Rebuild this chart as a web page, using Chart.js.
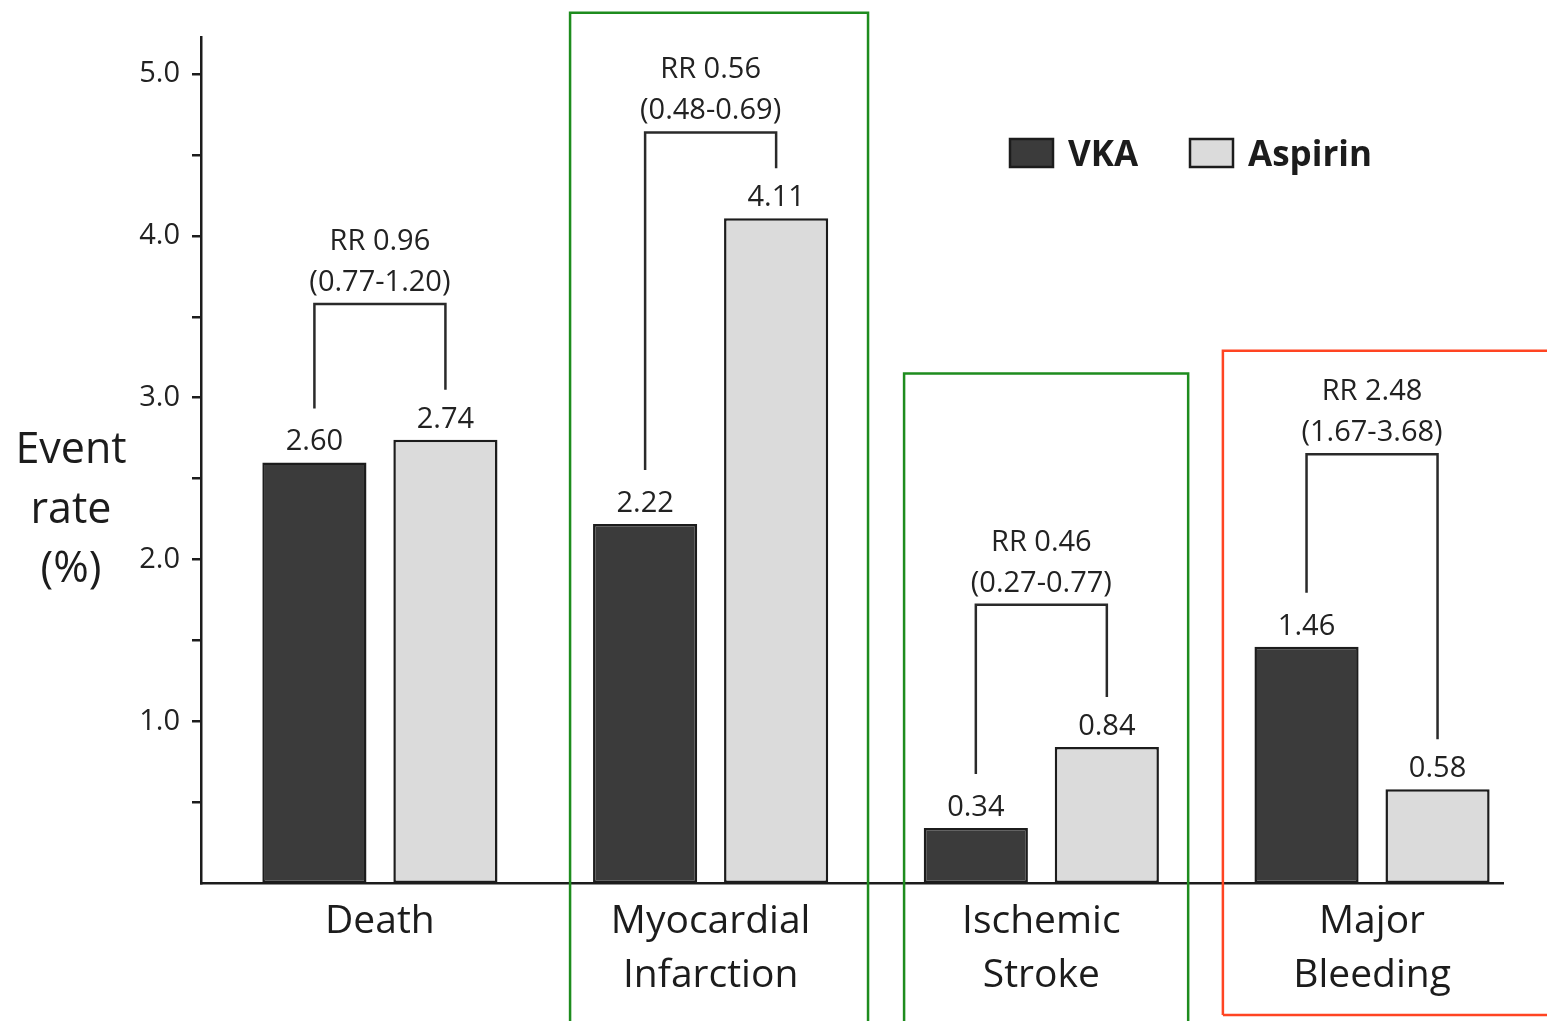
<!DOCTYPE html>
<html><head><meta charset="utf-8">
<script src="https://cdn.jsdelivr.net/npm/chart.js@4/dist/chart.umd.min.js"></script>
<style>html,body{margin:0;padding:0;background:#fff}#wrap{width:1547px;height:1021px;position:relative}</style>
</head><body><div id="wrap"><canvas id="c" width="1547" height="1021"></canvas></div>
<script>
// ---- data ----
const categories = [['Death'], ['Myocardial', 'Infarction'], ['Ischemic', 'Stroke'], ['Major', 'Bleeding']];
const seriesNames = ['VKA', 'Aspirin'];
const vkaRates = [2.60, 2.22, 0.34, 1.46];
const aspirinRates = [2.74, 4.11, 0.84, 0.58];
const rrValues = ['RR 0.96', 'RR 0.56', 'RR 0.46', 'RR 2.48'];
const rrIntervals = ['(0.77-1.20)', '(0.48-0.69)', '(0.27-0.77)', '(1.67-3.68)'];
const bracketLevels = [3.58, 4.64, 1.72, 2.65];
const yTickValues = [0.5, 1, 1.5, 2, 2.5, 3, 3.5, 4, 4.5, 5];
const yTickLabels = ['', '1.0', '', '2.0', '', '3.0', '', '4.0', '', '5.0'];
const yTitleLines = ['Event', 'rate', '(%)'];

// ---- styling ----
const FONT = "'Open Sans', 'Noto Sans', sans-serif";
const INK = '#1c1c1c';
const fills = ['#3b3b3b', '#dbdbdb'];

const annotationPlugin = {
  id: 'annot',
  afterDatasetsDraw(chart, args, opts) {
    const ctx = chart.ctx, ys = chart.scales.y;
    const metas = [chart.getDatasetMeta(0), chart.getDatasetMeta(1)];
    ctx.save();
    ctx.fillStyle = '#222';
    ctx.textAlign = 'center';
    ctx.textBaseline = 'alphabetic';
    ctx.font = `29px ${FONT}`;
    metas.forEach((m, di) => m.data.forEach((bar, i) => {
      const v = chart.data.datasets[di].data[i].y;
      ctx.fillText(v.toFixed(2), bar.x, bar.y - 12);
    }));
    ctx.strokeStyle = '#2a2a2a';
    ctx.lineWidth = 2.5;
    categories.forEach((c, i) => {
      const a = metas[0].data[i], b = metas[1].data[i];
      const top = ys.getPixelForValue(bracketLevels[i]);
      ctx.beginPath();
      ctx.moveTo(a.x, a.y - 54);
      ctx.lineTo(a.x, top);
      ctx.lineTo(b.x, top);
      ctx.lineTo(b.x, b.y - 50);
      ctx.stroke();
      const cx = (a.x + b.x) / 2;
      ctx.fillText(rrValues[i], cx, top - 54);
      ctx.fillText(rrIntervals[i], cx, top - 13);
    });
    ctx.restore();
  },
  afterDraw(chart, args, opts) {
    const ctx = chart.ctx, xs = chart.scales.x, ys = chart.scales.y;
    ctx.save();
    // y title
    ctx.fillStyle = INK;
    ctx.textAlign = 'center';
    ctx.font = `43px ${FONT}`;
    yTitleLines.forEach((t, k) => ctx.fillText(t, opts.titleX, opts.titleY + k * 59.5));
    // legend
    const lg = opts.legend;
    chart.data.datasets.forEach((ds, k) => {
      const x = lg.x + k * lg.step;
      ctx.fillStyle = ds.backgroundColor;
      ctx.fillRect(x, lg.y, lg.w, lg.h);
      ctx.strokeStyle = INK; ctx.lineWidth = 2.5;
      ctx.strokeRect(x, lg.y, lg.w, lg.h);
      ctx.fillStyle = INK;
      ctx.textAlign = 'left';
      ctx.font = `bold 35px ${FONT}`;
      ctx.fillText(ds.label, x + lg.w + 15, lg.y + 27);
    });
    // highlight frames
    opts.frames.forEach(f => {
      const l = xs.getPixelForValue(f.from), r = xs.getPixelForValue(f.to);
      const t = ys.getPixelForValue(f.top);
      const b = f.bottomPx;
      ctx.strokeStyle = f.color; ctx.lineWidth = 2.5;
      ctx.beginPath();
      ctx.moveTo(l, b); ctx.lineTo(l, t); ctx.lineTo(r, t); ctx.lineTo(r, b);
      if (f.closed) ctx.lineTo(l, b);
      ctx.stroke();
    });
    ctx.restore();
  }
};

new Chart(document.getElementById('c'), {
  type: 'bar',
  data: {
    datasets: [
      { label: seriesNames[0], data: categories.map((c, i) => ({ x: i, y: vkaRates[i] })),
        backgroundColor: fills[0], borderColor: INK, borderWidth: 2.5, borderSkipped: false,
        categoryPercentage: 0.7923, barPercentage: 0.795 },
      { label: seriesNames[1], data: categories.map((c, i) => ({ x: i, y: aspirinRates[i] })),
        backgroundColor: fills[1], borderColor: INK, borderWidth: 2.5, borderSkipped: false,
        categoryPercentage: 0.7923, barPercentage: 0.795 }
    ]
  },
  plugins: [annotationPlugin],
  options: {
    responsive: false,
    animation: false,
    layout: { padding: { top: 37, right: 44, left: 0, bottom: 0 } },
    plugins: {
      legend: { display: false },
      tooltip: { enabled: false },
      annot: {
        titleX: 71, titleY: 463,
        legend: { x: 1010, y: 139, w: 43, h: 28, step: 180 },
        frames: [
          { from: 0.575, to: 1.476, top: 5.38, bottomPx: 1030, color: '#1e8c1e' },
          { from: 1.585, to: 2.444, top: 3.15, bottomPx: 1030, color: '#1e8c1e' },
          { from: 2.549, to: 3.60, top: 3.29, bottomPx: 1015, color: '#ff4422', closed: true }
        ]
      }
    },
    scales: {
      x: {
        type: 'linear', min: -0.541, max: 3.396, offset: false,
        afterBuildTicks: s => { s.ticks = categories.map((c, i) => ({ value: i })); },
        afterFit: s => { s.height = 138; },
        grid: { display: false, drawTicks: false, offset: false },
        border: { display: true, color: INK, width: 2.5 },
        ticks: {
          callback: v => categories[v],
          font: { family: FONT, size: 39, lineHeight: 1.38 },
          color: INK, padding: 12, maxRotation: 0, autoSkip: false
        }
      },
      y: {
        min: 0, max: 5.23,
        afterBuildTicks: s => { s.ticks = yTickValues.map(v => ({ value: v })); },
        afterFit: s => { s.width = 201; },
        grid: { drawOnChartArea: false, color: INK, lineWidth: 2.5, tickLength: 9 },
        border: { display: true, color: INK, width: 2.5 },
        ticks: {
          callback: v => yTickLabels[yTickValues.indexOf(v)],
          font: { family: FONT, size: 29 },
          color: '#222', padding: 12, autoSkip: false
        }
      }
    }
  }
});
</script>
</body></html>
